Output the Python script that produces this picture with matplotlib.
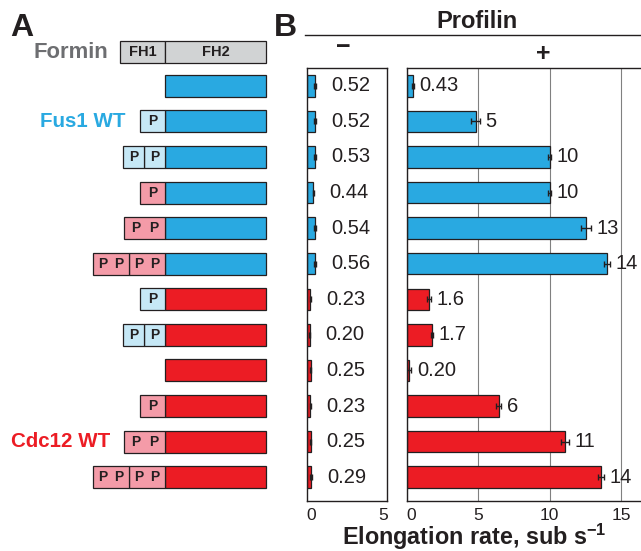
import matplotlib.pyplot as plt
from matplotlib.patches import Rectangle
from matplotlib.lines import Line2D

plt.rcParams['font.family'] = ['Liberation Sans', 'DejaVu Sans']
plt.rcParams['mathtext.fontset'] = 'custom'
plt.rcParams['mathtext.rm'] = 'Liberation Sans'
plt.rcParams['mathtext.bf'] = 'Liberation Sans:bold'

# ---- data (top row first) ----
minus_rate = [0.52, 0.52, 0.53, 0.44, 0.54, 0.56, 0.23, 0.20, 0.25, 0.23, 0.25, 0.29]
minus_err = [0.06, 0.06, 0.05, 0.05, 0.05, 0.05, 0.04, 0.04, 0.06, 0.04, 0.04, 0.05]
minus_labels = ['0.52', '0.52', '0.53', '0.44', '0.54', '0.56',
                '0.23', '0.20', '0.25', '0.23', '0.25', '0.29']

plus_rate = [0.43, 4.83, 10.0, 10.0, 12.54, 13.99, 1.58, 1.77, 0.17, 6.43, 11.07, 13.59]
plus_err = [0.05, 0.3, 0.12, 0.12, 0.35, 0.22, 0.14, 0.1, 0.15, 0.2, 0.3, 0.23]
plus_labels = ['0.43', '5', '10', '10', '13', '14', '1.6', '1.7', '0.20', '6', '11', '14']

# panel A constructs: FH2 origin + FH1 proline boxes (origin, number of P)
fh2_source = ['Fus1'] * 6 + ['Cdc12'] * 6
fh1_boxes = [
    [],
    [('Fus1', 1)],
    [('Fus1', 1), ('Fus1', 1)],
    [('Cdc12', 1)],
    [('Cdc12', 2)],
    [('Cdc12', 2), ('Cdc12', 2)],
    [('Fus1', 1)],
    [('Fus1', 1), ('Fus1', 1)],
    [],
    [('Cdc12', 1)],
    [('Cdc12', 2)],
    [('Cdc12', 2), ('Cdc12', 2)],
]
wt_rows = {'Fus1 WT': 1, 'Cdc12 WT': 10}

# ---- styles ----
fh2_color = {'Fus1': '#29a9e1', 'Cdc12': '#ec1c24'}
p_color = {'Fus1': '#c6e8f6', 'Cdc12': '#f49ba8'}
dark = '#231f20'
rows = list(range(len(minus_rate)))
bar_colors = [fh2_color[s] for s in fh2_source]

W, H = 641, 551
fig = plt.figure(figsize=(W / 100, H / 100), dpi=100)
bot, hgt = 1 - 501 / H, (501 - 67.7) / H
ylim = (11.67, -0.51)

# ---------------- panel A ----------------
axa = fig.add_axes([0, bot, 300 / W, hgt])
axa.set_xlim(0, 300)
axa.set_ylim(*ylim)
axa.axis('off')

fh2_x, fh2_w, bh = 165, 101, 0.62
head_y = -0.95
axa.add_patch(Rectangle((120, head_y - bh / 2), 45, bh, fc='#d1d3d4', ec=dark, lw=0.9, clip_on=False))
axa.add_patch(Rectangle((fh2_x, head_y - bh / 2), fh2_w, bh, fc='#d1d3d4', ec=dark, lw=0.9, clip_on=False))
axa.text(142.5, head_y, 'FH1', ha='center', va='center', fontsize=10.5, fontweight='bold', color=dark)
axa.text(fh2_x + fh2_w / 2, head_y, 'FH2', ha='center', va='center', fontsize=10.5, fontweight='bold', color=dark)
axa.text(108, head_y, 'Formin', ha='right', va='center', fontsize=15.8, fontweight='bold', color='#6d6e71')

starts = []
for r, (src, boxes) in enumerate(zip(fh2_source, fh1_boxes)):
    axa.add_patch(Rectangle((fh2_x, r - bh / 2), fh2_w, bh, fc=fh2_color[src], ec=dark, lw=0.9))
    x = fh2_x
    for origin, n_p in reversed(boxes):
        if len(boxes) == 1:
            w = {1: 25, 2: 41}[n_p]
        else:
            w = {1: 21, 2: 36}[n_p]
        x -= w
        axa.add_patch(Rectangle((x, r - bh / 2), w, bh, fc=p_color[origin], ec=dark, lw=0.9))
        fr = [0.5] if n_p == 1 else [0.28, 0.72]
        for f in fr:
            axa.text(x + f * w, r, 'P', ha='center', va='center', fontsize=10, fontweight='bold', color=dark)
    starts.append(x)

for name, r in wt_rows.items():
    axa.text(starts[r] - 14, r, name, ha='right', va='center', fontsize=14.8, fontweight='bold',
             color=fh2_color[fh2_source[r]])

# ---------------- panel B ----------------
axm = fig.add_axes([306.7 / W, bot, (387.3 - 306.7) / W, hgt])
axp = fig.add_axes([406.7 / W, bot, (W - 406.7) / W, hgt])

for ax, vals, errs, labels, lim, ticks, off in [
        (axm, minus_rate, minus_err, minus_labels, 5.3, [0, 5], 11),
        (axp, plus_rate, plus_err, plus_labels, 16.39, [0, 5, 10, 15], 4)]:
    ax.barh(rows, vals, height=0.6, color=bar_colors, edgecolor=dark, lw=0.9, zorder=2)
    ax.errorbar(vals, rows, xerr=errs, fmt='none', ecolor=dark, elinewidth=1, capsize=2.5, zorder=3)
    for r, v, e, lab in zip(rows, vals, errs, labels):
        ax.annotate(lab, xy=(v + e, r), xytext=(off, 0), textcoords='offset points',
                    ha='left', va='center', fontsize=14.5, color=dark)
    ax.set_xlim(0, lim)
    ax.set_ylim(*ylim)
    ax.set_yticks([])
    ax.set_xticks(ticks, [str(t) for t in ticks])
    ax.tick_params(axis='x', length=0, labelsize=12.5, pad=5, colors=dark)
    ax.get_xticklabels()[0].set_horizontalalignment('left')
    for s in ax.spines.values():
        s.set_linewidth(1)
        s.set_color(dark)

axp.spines['right'].set_visible(False)
axp.grid(axis='x', color='#808080', lw=0.8)
axp.set_axisbelow(True)

# headers
fig.text(10 / W, 1 - 36 / H, 'A', fontsize=23, fontweight='bold', color=dark)
fig.text(274 / W, 1 - 36 / H, 'B', fontsize=23, fontweight='bold', color=dark)
fig.text(477 / W, 1 - 22 / H, 'Profilin', ha='center', va='center', fontsize=17, fontweight='bold', color=dark)
fig.add_artist(Line2D([305 / W, 1], [1 - 35 / H, 1 - 35 / H], color=dark, lw=1))
fig.text(343 / W, 1 - 47 / H, '\u2212', ha='center', va='center', fontsize=18, fontweight='bold', color=dark)
fig.text(543 / W, 1 - 54 / H, '+', ha='center', va='center', fontsize=18, fontweight='bold', color=dark)
fig.text(474 / W, 1 - 537 / H, r'Elongation rate, sub s$^{\mathbf{-1}}$', ha='center', va='center',
         fontsize=16.8, fontweight='bold', color=dark)

fig.savefig('out.png', dpi=100)
